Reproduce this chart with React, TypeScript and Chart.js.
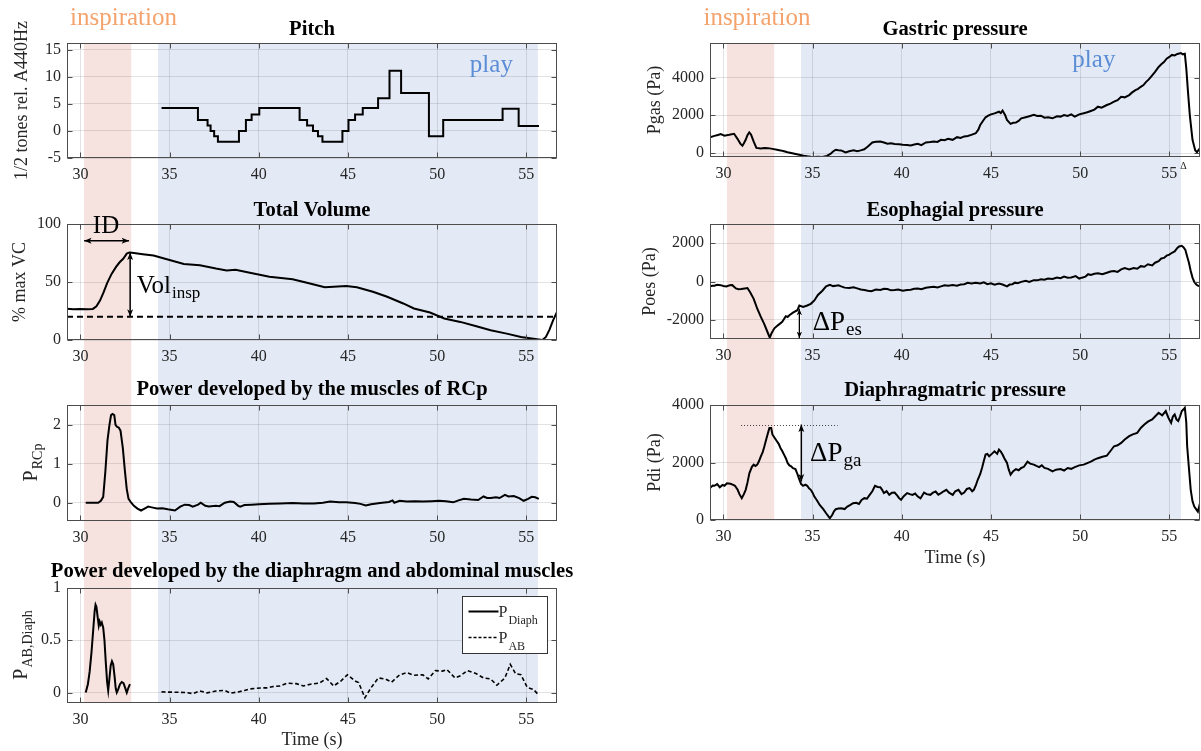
import React, { useEffect, useRef } from "react";
import { Chart, registerables } from "chart.js";

Chart.register(...registerables);

const SERIF = '"Liberation Serif", "Times New Roman", Times, serif';
const INK = "#262626";
const AXIS_COLOR = "#4d4d4d";
const GRID_COLOR = "rgba(0,0,0,0.11)";
const PINK = "#f6e3e0";
const BLUE = "#e4eaf5";
const ORANGE = "#f4a36c";
const PLAY_BLUE = "#5b8dd6";

// ---------- shared axis data ----------
const X_MIN = 29.25;
const X_MAX = 56.72;
const TIME_TICKS = [30, 35, 40, 45, 50, 55];
const INSPIRATION_SPAN = [30.2, 32.85];
const PLAY_SPAN = [34.35, 55.65];

// ---------- Pitch (1/2 tones rel. A440Hz) ----------
const pitchTime = [34.55, 36.59, 37.13, 37.3, 37.5, 37.71, 38.89, 39.28, 39.6, 40.03, 42.29, 42.71, 43.04, 43.32, 43.57, 44.69, 45.03, 45.4, 45.83, 46.69, 47.33, 47.98, 49.54, 50.34, 53.67, 54.57, 55.71];
const pitchTones = [4.2, 2.0, 1.0, 0.0, -1.0, -2.0, 0.0, 2.0, 3.0, 4.2, 2.0, 1.0, 0.0, -1.0, -2.0, 0.0, 2.0, 3.0, 4.2, 6.0, 11.1, 7.0, -1.0, 2.0, 4.1, 0.9, 0.9];
const pitchTicks = [-5, 0, 5, 10, 15];

// ---------- Total volume (% max VC) ----------
const volumeTime = [29.25, 29.6, 30.0, 30.4, 30.7, 30.9, 31.1, 31.3, 31.5, 31.75, 32.0, 32.2, 32.4, 32.6, 32.75, 32.9, 33.5, 34.1, 35.0, 35.8, 36.7, 37.6, 38.2, 38.7, 39.5, 40.6, 41.9, 42.7, 43.7, 44.2, 44.9, 45.5, 46.4, 47.2, 48.1, 48.7, 49.6, 50.4, 51.3, 52.2, 53.0, 53.9, 54.7, 55.6, 55.9, 56.1, 56.3, 56.5, 56.72];
const volumeValues = [27, 26.5, 26.8, 26.5, 26.8, 29, 34, 41, 49, 57, 63, 67, 70, 74.5, 75.5, 75.2, 74, 72.8, 69, 65.6, 64.5, 61.6, 60, 60.6, 58, 54.6, 52.3, 49.4, 45.4, 46, 46.5, 45.4, 41.6, 37.3, 31.5, 27.2, 23.7, 18.5, 15.6, 11.8, 8.4, 5.5, 2.6, 0.6, 0, 2.6, 9, 17, 24.3];
const volumeThreshold = 20;
const volumeTicks = [0, 50, 100];

// ---------- Power RCp ----------
const rcpTime = [30.3, 31.0, 31.15, 31.28, 31.4, 31.52, 31.63, 31.72, 31.8, 31.9, 31.97, 32.05, 32.15, 32.25, 32.38, 32.5, 32.6, 32.7, 32.85, 33.0, 33.2, 33.4, 33.6, 33.8, 34.0, 34.3, 34.6, 34.9, 35.3, 35.6, 35.85, 36.1, 36.3, 36.6, 36.75, 37.0, 37.2, 37.6, 37.8, 38.1, 38.4, 38.6, 38.85, 38.96, 39.2, 39.6, 40.0, 40.6, 41.2, 41.9, 42.5, 43.1, 43.6, 44.0, 44.5, 44.9, 45.4, 45.7, 46.0, 46.3, 46.8, 47.3, 47.5, 47.6, 47.9, 48.3, 48.8, 49.2, 49.7, 50.1, 50.5, 50.9, 51.2, 51.5, 51.9, 52.3, 52.6, 52.8, 53.0, 53.3, 53.5, 53.8, 54.0, 54.3, 54.6, 54.85, 55.1, 55.3, 55.5, 55.7];
const rcpPower = [0, 0, 0.05, 0.15, 0.8, 1.6, 2.0, 2.25, 2.28, 2.25, 2.0, 1.95, 1.93, 1.85, 1.4, 0.8, 0.35, 0.1, 0.0, -0.08, -0.15, -0.2, -0.15, -0.1, -0.12, -0.15, -0.14, -0.17, -0.2, -0.1, -0.05, -0.06, -0.1, -0.05, 0.0, -0.08, -0.1, -0.08, -0.09, 0.0, 0.03, 0.02, -0.08, -0.1, -0.06, -0.05, -0.04, -0.03, -0.02, -0.01, -0.02, -0.02, 0.0, 0.03, 0.01, 0.01, -0.01, -0.03, -0.07, -0.04, -0.01, 0.02, 0.06, 0.0, 0.05, 0.03, 0.04, 0.03, 0.04, 0.05, 0.04, 0.01, 0.06, 0.1, 0.08, 0.07, 0.16, 0.12, 0.12, 0.14, 0.12, 0.2, 0.16, 0.17, 0.12, 0.05, 0.1, 0.15, 0.14, 0.1];
const rcpTicks = [0, 1, 2];

// ---------- Power diaphragm / abdominal ----------
const diaphTime = [30.3, 30.42, 30.52, 30.62, 30.72, 30.8, 30.85, 30.9, 30.97, 31.03, 31.08, 31.14, 31.2, 31.28, 31.35, 31.42, 31.5, 31.56, 31.62, 31.7, 31.77, 31.84, 31.92, 31.98, 32.04, 32.12, 32.22, 32.32, 32.42, 32.52, 32.6, 32.68, 32.78];
const diaphPower = [0, 0.08, 0.2, 0.38, 0.6, 0.78, 0.84, 0.82, 0.72, 0.64, 0.68, 0.65, 0.67, 0.62, 0.5, 0.3, 0.1, 0.02, 0.12, 0.26, 0.3, 0.27, 0.15, 0.04, 0.0, 0.03, 0.08, 0.1, 0.09, 0.04, 0.0, 0.04, 0.08];
const abTime = [34.55, 35.0, 35.4, 35.9, 36.3, 36.7, 37.1, 37.6, 38.1, 38.4, 38.85, 39.2, 39.5, 40.1, 40.5, 40.8, 41.2, 41.6, 42.1, 42.5, 42.9, 43.4, 43.8, 44.2, 44.6, 44.97, 45.4, 45.6, 45.95, 46.3, 46.7, 47.1, 47.45, 47.9, 48.3, 48.7, 49.2, 49.5, 49.9, 50.3, 50.55, 51.0, 51.3, 51.7, 52.2, 52.6, 53.0, 53.35, 53.8, 54.1, 54.4, 54.7, 55.05, 55.4, 55.7];
const abPower = [0.006, 0.004, 0.003, 0.0, -0.01, 0.015, -0.003, 0.015, 0.02, -0.006, 0.006, 0.02, 0.035, 0.044, 0.045, 0.057, 0.063, 0.09, 0.085, 0.063, 0.08, 0.09, 0.135, 0.063, 0.11, 0.17, 0.11, 0.095, -0.05, 0.047, 0.14, 0.13, 0.1, 0.17, 0.19, 0.165, 0.17, 0.13, 0.21, 0.205, 0.22, 0.14, 0.16, 0.21, 0.18, 0.14, 0.13, 0.07, 0.14, 0.27, 0.18, 0.17, 0.05, 0.03, -0.025];
const abTicks = [0, 0.5, 1];

// ---------- Gastric pressure (Pa) ----------
const gasTime = [29.25, 29.5, 29.7, 29.85, 30.06, 30.25, 30.4, 30.6, 30.8, 30.95, 31.07, 31.15, 31.25, 31.35, 31.45, 31.55, 31.7, 31.85, 32.1, 32.3, 32.5, 32.75, 33.0, 33.2, 33.4, 33.6, 33.8, 34.05, 34.25, 34.5, 34.7, 34.9, 35.1, 35.3, 35.55, 35.8, 36.0, 36.15, 36.3, 36.45, 36.6, 36.85, 37.05, 37.3, 37.5, 37.7, 37.9, 38.1, 38.35, 38.55, 38.8, 39.0, 39.2, 39.4, 39.6, 39.85, 40.06, 40.3, 40.5, 40.7, 40.9, 41.1, 41.35, 41.6, 41.8, 42.0, 42.2, 42.4, 42.6, 42.85, 43.1, 43.3, 43.5, 43.7, 43.9, 44.15, 44.3, 44.4, 44.55, 44.7, 44.85, 45.0, 45.2, 45.45, 45.55, 45.65, 45.8, 45.9, 46.1, 46.25, 46.4, 46.55, 46.7, 46.95, 47.2, 47.4, 47.6, 47.8, 48.0, 48.2, 48.45, 48.7, 48.9, 49.1, 49.3, 49.5, 49.7, 49.95, 50.2, 50.4, 50.6, 50.8, 51.0, 51.2, 51.5, 51.7, 51.9, 52.1, 52.3, 52.5, 52.75, 52.9, 53.1, 53.25, 53.4, 53.55, 53.7, 53.85, 54.04, 54.2, 54.4, 54.55, 54.7, 54.85, 55.0, 55.15, 55.3, 55.45, 55.65, 55.75, 55.87, 55.95, 56.05, 56.15, 56.3, 56.45, 56.55, 56.72];
const gasPressure = [840, 910, 960, 1000, 920, 950, 980, 1020, 740, 500, 390, 520, 700, 950, 1090, 980, 600, 270, 245, 270, 260, 220, 175, 140, 90, 40, 0, -50, -90, -140, -175, -200, -210, -200, -210, -150, -50, 80, 175, 150, 140, 35, 90, 140, 100, 140, 200, 350, 560, 600, 615, 560, 490, 520, 475, 470, 440, 420, 400, 450, 490, 420, 560, 580, 615, 590, 700, 680, 750, 700, 840, 800, 880, 900, 965, 1050, 1250, 1490, 1700, 1895, 1980, 2050, 2100, 2190, 2120, 2250, 2000, 1750, 1545, 1600, 1615, 1700, 1840, 1900, 1965, 2020, 1965, 1980, 1875, 1900, 1840, 1950, 1930, 2010, 1965, 2050, 1930, 2050, 2105, 2160, 2230, 2300, 2455, 2400, 2545, 2620, 2720, 2800, 2980, 2950, 3070, 3200, 3330, 3400, 3510, 3600, 3770, 3900, 4120, 4300, 4560, 4700, 4820, 5000, 5090, 5200, 5175, 5250, 5300, 5230, 5260, 4500, 3200, 2000, 700, 150, 50, 260];
const gasTicks = [0, 2000, 4000];

// ---------- Esophageal pressure (Pa) ----------
const oesTime = [29.25, 29.4, 29.5, 29.65, 29.85, 30.0, 30.17, 30.35, 30.5, 30.7, 30.85, 31.0, 31.2, 31.35, 31.5, 31.7, 31.9, 32.1, 32.3, 32.5, 32.6, 32.7, 32.86, 33.07, 33.3, 33.5, 33.6, 33.7, 33.9, 34.15, 34.26, 34.47, 34.7, 34.9, 35.1, 35.3, 35.55, 35.76, 35.97, 36.15, 36.3, 36.45, 36.6, 36.8, 37.05, 37.3, 37.5, 37.7, 37.9, 38.1, 38.3, 38.55, 38.8, 39.0, 39.2, 39.4, 39.6, 39.8, 40.06, 40.3, 40.5, 40.7, 40.9, 41.1, 41.35, 41.55, 41.8, 42.0, 42.2, 42.4, 42.6, 42.85, 43.1, 43.3, 43.5, 43.7, 43.9, 44.15, 44.4, 44.6, 44.8, 45.0, 45.2, 45.45, 45.65, 45.9, 46.05, 46.2, 46.35, 46.5, 46.7, 46.95, 47.15, 47.4, 47.6, 47.8, 48.0, 48.2, 48.45, 48.7, 48.9, 49.1, 49.3, 49.5, 49.75, 49.95, 50.1, 50.3, 50.45, 50.6, 50.8, 51.0, 51.25, 51.5, 51.7, 51.9, 52.1, 52.3, 52.5, 52.75, 53.0, 53.2, 53.4, 53.6, 53.8, 54.04, 54.2, 54.4, 54.55, 54.7, 54.85, 55.0, 55.15, 55.3, 55.45, 55.55, 55.7, 55.8, 55.9, 56.0, 56.1, 56.2, 56.3, 56.4, 56.5, 56.6, 56.72];
const oesPressure = [-256, -220, -220, -170, -190, -230, -256, -200, -190, -360, -400, -390, -360, -340, -565, -905, -1420, -1850, -2240, -2700, -2925, -2700, -2445, -2275, -2100, -1810, -1850, -1760, -1625, -1500, -1250, -1330, -1250, -1165, -990, -700, -480, -256, -170, -240, -220, -200, -256, -320, -340, -300, -360, -420, -445, -480, -510, -420, -445, -380, -390, -460, -445, -420, -480, -440, -430, -380, -360, -400, -325, -300, -275, -310, -256, -200, -220, -180, -220, -160, -140, -70, -100, -60, -100, -40, -140, -90, -170, -110, -155, -256, -160, -140, -60, -85, -20, 35, -20, 70, 60, 120, 90, 155, 130, 205, 170, 255, 200, 205, 280, 155, 200, 255, 380, 340, 400, 430, 380, 460, 520, 550, 500, 630, 700, 630, 700, 665, 800, 770, 900, 840, 980, 1060, 1200, 1230, 1350, 1400, 1500, 1570, 1750, 1830, 1860, 1780, 1650, 1300, 975, 550, 205, -20, -140, -220, -256];
const oesTicks = [-2000, 0, 2000];

// ---------- Diaphragmatic pressure (Pa) ----------
const pdiTime = [29.25, 29.4, 29.5, 29.65, 29.8, 29.95, 30.06, 30.2, 30.4, 30.55, 30.65, 30.8, 30.9, 31.03, 31.15, 31.25, 31.35, 31.46, 31.6, 31.7, 31.8, 31.9, 32.0, 32.1, 32.2, 32.3, 32.4, 32.5, 32.58, 32.68, 32.75, 32.85, 33.0, 33.1, 33.2, 33.3, 33.4, 33.5, 33.6, 33.7, 33.8, 33.9, 34.04, 34.15, 34.26, 34.36, 34.47, 34.6, 34.7, 34.8, 34.9, 35.0, 35.1, 35.25, 35.4, 35.6, 35.76, 35.9, 35.97, 36.05, 36.1, 36.2, 36.3, 36.45, 36.6, 36.8, 36.95, 37.1, 37.27, 37.45, 37.6, 37.75, 37.9, 38.05, 38.2, 38.35, 38.5, 38.65, 38.8, 38.9, 39.0, 39.15, 39.3, 39.45, 39.6, 39.75, 39.85, 39.96, 40.1, 40.3, 40.45, 40.6, 40.75, 40.9, 41.05, 41.25, 41.4, 41.6, 41.75, 41.9, 42.05, 42.2, 42.35, 42.5, 42.65, 42.86, 43.0, 43.18, 43.35, 43.5, 43.65, 43.8, 43.95, 44.04, 44.15, 44.26, 44.4, 44.5, 44.6, 44.7, 44.8, 44.9, 45.05, 45.2, 45.35, 45.45, 45.55, 45.65, 45.75, 45.9, 46.0, 46.1, 46.25, 46.4, 46.55, 46.7, 46.85, 47.05, 47.2, 47.4, 47.55, 47.7, 47.85, 48.0, 48.2, 48.45, 48.65, 48.9, 49.1, 49.3, 49.5, 49.7, 49.95, 50.2, 50.4, 50.6, 50.8, 51.0, 51.25, 51.5, 51.7, 51.9, 52.1, 52.3, 52.5, 52.75, 52.95, 53.2, 53.4, 53.6, 53.8, 54.04, 54.2, 54.4, 54.6, 54.8, 54.95, 55.1, 55.2, 55.3, 55.4, 55.5, 55.6, 55.7, 55.8, 55.87, 55.95, 56.0, 56.1, 56.2, 56.3, 56.4, 56.5, 56.6, 56.72];
const pdiPressure = [1110, 1200, 1190, 1250, 1140, 1220, 1190, 1280, 1260, 1220, 1190, 1050, 900, 760, 900, 1050, 1300, 1630, 1850, 1925, 1880, 1925, 2050, 2215, 2350, 2565, 2800, 3030, 3200, 3200, 2975, 2880, 2740, 2650, 2505, 2400, 2275, 2150, 1985, 1900, 1865, 1800, 1770, 1600, 1400, 1250, 1190, 1230, 1190, 1100, 1050, 950, 815, 680, 525, 380, 235, 120, 60, 130, 175, 300, 375, 400, 410, 380, 465, 520, 585, 600, 560, 700, 760, 740, 875, 1000, 1190, 1150, 1140, 1050, 935, 1000, 875, 950, 955, 850, 760, 700, 820, 935, 900, 875, 920, 815, 750, 955, 900, 875, 950, 990, 880, 935, 1000, 1050, 950, 875, 1000, 1050, 900, 955, 1080, 1110, 1000, 1050, 1200, 1400, 1600, 1810, 2050, 2275, 2300, 2215, 2300, 2390, 2300, 2450, 2380, 2275, 2150, 1985, 1750, 1575, 1700, 1770, 1730, 1810, 1850, 2030, 1960, 1925, 1880, 1840, 1900, 1810, 1780, 1690, 1750, 1770, 1720, 1810, 1780, 1840, 1900, 1925, 1980, 2030, 2100, 2150, 2200, 2240, 2400, 2565, 2600, 2680, 2800, 2915, 2980, 3030, 3200, 3320, 3420, 3500, 3600, 3730, 3640, 3790, 3550, 3380, 3600, 3670, 3500, 3440, 3600, 3790, 3850, 3905, 3400, 2565, 1800, 1050, 650, 465, 380, 290, 585];
const pdiTicks = [0, 2000, 4000];

// ---------- helpers ----------
type Pt = { x: number; y: number };
const zip = (xs: number[], ys: number[]): Pt[] => xs.map((x, i) => ({ x, y: ys[i] }));

const lineDs = (data: Pt[], extra: any = {}) => ({
  data,
  borderColor: "#000",
  borderWidth: 2,
  pointRadius: 0,
  fill: false,
  tension: 0,
  ...extra,
});

function arrow(ctx: CanvasRenderingContext2D, x1: number, y1: number, x2: number, y2: number, head = 8, lw = 1.5) {
  const ang = Math.atan2(y2 - y1, x2 - x1);
  ctx.save();
  ctx.strokeStyle = "#000";
  ctx.fillStyle = "#000";
  ctx.lineWidth = lw;
  ctx.setLineDash([]);
  ctx.beginPath();
  ctx.moveTo(x1, y1);
  ctx.lineTo(x2, y2);
  ctx.stroke();
  const headAt = (x: number, y: number, a: number) => {
    ctx.beginPath();
    ctx.moveTo(x, y);
    ctx.lineTo(x - head * Math.cos(a - 0.38), y - head * Math.sin(a - 0.38));
    ctx.lineTo(x - head * 0.7 * Math.cos(a), y - head * 0.7 * Math.sin(a));
    ctx.lineTo(x - head * Math.cos(a + 0.38), y - head * Math.sin(a + 0.38));
    ctx.closePath();
    ctx.fill();
  };
  headAt(x2, y2, ang);
  headAt(x1, y1, ang + Math.PI);
  ctx.restore();
}

function drawSub(ctx: CanvasRenderingContext2D, x: number, y: number, main: string, sub: string, size: number, subSize: number, drop: number, color = "#000") {
  ctx.save();
  ctx.fillStyle = color;
  ctx.textAlign = "left";
  ctx.textBaseline = "alphabetic";
  ctx.font = `${size}px ${SERIF}`;
  ctx.fillText(main, x, y);
  const w = ctx.measureText(main).width;
  ctx.font = `${subSize}px ${SERIF}`;
  ctx.fillText(sub, x + w + 1, y + drop);
  ctx.restore();
}

function drawYLabel(ctx: CanvasRenderingContext2D, cx: number, cy: number, main: string, sub: string | undefined, size: number) {
  ctx.save();
  ctx.translate(cx, cy);
  ctx.rotate(-Math.PI / 2);
  ctx.fillStyle = INK;
  ctx.textBaseline = "middle";
  ctx.textAlign = "left";
  const subSize = Math.round(size * 0.7);
  ctx.font = `${size}px ${SERIF}`;
  const wMain = ctx.measureText(main).width;
  let wSub = 0;
  if (sub) {
    ctx.font = `${subSize}px ${SERIF}`;
    wSub = ctx.measureText(sub).width;
  }
  const start = -(wMain + wSub) / 2;
  ctx.font = `${size}px ${SERIF}`;
  ctx.fillText(main, start, 0);
  if (sub) {
    ctx.font = `${subSize}px ${SERIF}`;
    ctx.fillText(sub, start + wMain + 1, size * 0.33);
  }
  ctx.restore();
}

type PanelDef = {
  id: string;
  left: number;
  top: number;
  width: number;
  height: number;
  plotLeft: number;
  plotRight: number;
  plotTop: number;
  plotBottom: number;
  yMin: number;
  yMax: number;
  yTicks: number[];
  title: string;
  titleY: number;
  yLabel: { main: string; sub?: string; cx: number; size: number };
  xTitleY?: number;
  bandTop: boolean;
  bandBottom: boolean;
  datasets: any[];
  extra?: (ctx: CanvasRenderingContext2D, X: (v: number) => number, Y: (v: number) => number, ca: any) => void;
};

function makeDecor(p: PanelDef) {
  return {
    id: "decor_" + p.id,
    beforeDraw(chart: any) {
      const { ctx, chartArea } = chart;
      const xs = chart.scales.x;
      const y0 = p.bandTop ? chartArea.top : 0;
      const y1 = p.bandBottom ? chartArea.bottom : chart.height;
      ctx.save();
      const band = (span: number[], color: string) => {
        const a = xs.getPixelForValue(span[0]);
        const b = xs.getPixelForValue(span[1]);
        ctx.fillStyle = color;
        ctx.fillRect(a, y0, b - a, y1 - y0);
      };
      band(INSPIRATION_SPAN, PINK);
      band(PLAY_SPAN, BLUE);
      ctx.restore();
    },
    afterDraw(chart: any) {
      const { ctx, chartArea: ca } = chart;
      const xs = chart.scales.x;
      const ys = chart.scales.y;
      const X = (v: number) => xs.getPixelForValue(v);
      const Y = (v: number) => ys.getPixelForValue(v);
      ctx.save();
      // axes box
      ctx.strokeStyle = AXIS_COLOR;
      ctx.lineWidth = 1;
      ctx.setLineDash([]);
      const L = Math.round(ca.left) + 0.5;
      const R = Math.round(ca.right) - 0.5;
      const T = Math.round(ca.top) + 0.5;
      const B = Math.round(ca.bottom) - 0.5;
      ctx.strokeRect(L, T, R - L, B - T);
      ctx.beginPath();
      TIME_TICKS.forEach((v) => {
        const px = Math.round(X(v)) + 0.5;
        ctx.moveTo(px, B);
        ctx.lineTo(px, B - 5);
        ctx.moveTo(px, T);
        ctx.lineTo(px, T + 5);
      });
      p.yTicks.forEach((v) => {
        const py = Math.round(Y(v)) + 0.5;
        ctx.moveTo(L, py);
        ctx.lineTo(L + 5, py);
        ctx.moveTo(R, py);
        ctx.lineTo(R - 5, py);
      });
      ctx.stroke();
      // title
      ctx.fillStyle = "#000";
      ctx.font = `bold 20.6px ${SERIF}`;
      ctx.textAlign = "center";
      ctx.textBaseline = "middle";
      ctx.fillText(p.title, (ca.left + ca.right) / 2, p.titleY - p.top);
      // y label
      drawYLabel(ctx, p.yLabel.cx - p.left, (ca.top + ca.bottom) / 2, p.yLabel.main, p.yLabel.sub, p.yLabel.size);
      // x title
      if (p.xTitleY !== undefined) {
        ctx.fillStyle = INK;
        ctx.font = `18px ${SERIF}`;
        ctx.textAlign = "center";
        ctx.textBaseline = "middle";
        ctx.fillText("Time (s)", (ca.left + ca.right) / 2, p.xTitleY - p.top);
      }
      if (p.extra) p.extra(ctx, X, Y, ca);
      ctx.restore();
    },
  };
}

function Panel({ p }: { p: PanelDef }) {
  const ref = useRef<HTMLCanvasElement | null>(null);
  useEffect(() => {
    const canvas = ref.current;
    if (!canvas) return;
    const tickFont = { family: SERIF, size: 16 };
    const chart = new Chart(canvas, {
      type: "line",
      data: { datasets: p.datasets },
      options: {
        animation: false,
        responsive: false,
        maintainAspectRatio: false,
        devicePixelRatio: 1,
        events: [],
        layout: {
          padding: { top: p.plotTop - p.top, right: p.left + p.width - p.plotRight, bottom: 0, left: 0 },
        },
        plugins: {
          legend: { display: false },
          tooltip: { enabled: false },
          title: { display: false },
        },
        scales: {
          x: {
            type: "linear",
            min: X_MIN,
            max: X_MAX,
            afterBuildTicks: (s: any) => {
              s.ticks = TIME_TICKS.map((v) => ({ value: v }));
            },
            afterFit: (s: any) => {
              s.height = p.top + p.height - p.plotBottom;
            },
            grid: { color: GRID_COLOR, drawTicks: false, lineWidth: 1 },
            border: { display: false },
            ticks: {
              padding: 7,
              autoSkip: false,
              maxRotation: 0,
              font: tickFont,
              color: INK,
              callback: (v: any) => String(v),
            },
          },
          y: {
            type: "linear",
            min: p.yMin,
            max: p.yMax,
            afterBuildTicks: (s: any) => {
              s.ticks = p.yTicks.map((v) => ({ value: v }));
            },
            afterFit: (s: any) => {
              s.width = p.plotLeft - p.left;
            },
            grid: { color: GRID_COLOR, drawTicks: false, lineWidth: 1 },
            border: { display: false },
            ticks: {
              padding: 6,
              autoSkip: false,
              font: tickFont,
              color: INK,
              callback: (v: any) => String(v),
            },
          },
        },
      } as any,
      plugins: [makeDecor(p)],
    });
    return () => chart.destroy();
  }, [p]);
  return (
    <canvas
      ref={ref}
      width={p.width}
      height={p.height}
      style={{ position: "absolute", left: p.left, top: p.top, width: p.width, height: p.height, display: "block" }}
    />
  );
}

const LEFT = { left: 0, width: 585, plotLeft: 67, plotRight: 557 };
const RIGHT = { left: 600, width: 601, plotLeft: 710, plotRight: 1200 };

const panels: PanelDef[] = [
  {
    id: "pitch",
    ...LEFT,
    top: 0,
    height: 186,
    plotTop: 43,
    plotBottom: 158,
    yMin: -5,
    yMax: 16.2,
    yTicks: pitchTicks,
    title: "Pitch",
    titleY: 30,
    yLabel: { main: "1/2 tones rel. A440Hz", cx: 22, size: 18 },
    bandTop: true,
    bandBottom: false,
    datasets: [lineDs(zip(pitchTime, pitchTones), { stepped: "before" })],
    extra: (ctx, X) => {
      ctx.font = `25px ${SERIF}`;
      ctx.textAlign = "center";
      ctx.textBaseline = "middle";
      ctx.fillStyle = ORANGE;
      ctx.fillText("inspiration", X(32.42), 18);
      ctx.fillStyle = PLAY_BLUE;
      ctx.fillText("play", X(53.04), 65);
    },
  },
  {
    id: "volume",
    ...LEFT,
    top: 186,
    height: 179,
    plotTop: 224,
    plotBottom: 340,
    yMin: 0,
    yMax: 100,
    yTicks: volumeTicks,
    title: "Total Volume",
    titleY: 211,
    yLabel: { main: "% max VC", cx: 20, size: 18 },
    bandTop: false,
    bandBottom: false,
    datasets: [
      lineDs(zip(volumeTime, volumeValues)),
      lineDs(
        [
          { x: X_MIN, y: volumeThreshold },
          { x: X_MAX, y: volumeThreshold },
        ],
        { borderDash: [6, 4] }
      ),
    ],
    extra: (ctx, X, Y) => {
      ctx.fillStyle = "#000";
      ctx.font = `25px ${SERIF}`;
      ctx.textAlign = "center";
      ctx.textBaseline = "alphabetic";
      ctx.fillText("ID", X(31.44), Y(92.5));
      arrow(ctx, X(30.21), Y(85.5), X(32.73), Y(85.5));
      arrow(ctx, X(32.79), Y(75.4), X(32.79), Y(20));
      drawSub(ctx, X(33.16), Y(40.2), "Vol", "insp", 25, 17, 5);
    },
  },
  {
    id: "rcp",
    ...LEFT,
    top: 365,
    height: 190,
    plotTop: 405,
    plotBottom: 521,
    yMin: -0.47,
    yMax: 2.51,
    yTicks: rcpTicks,
    title: "Power developed by the muscles of RCp",
    titleY: 390,
    yLabel: { main: "P", sub: "RCp", cx: 32, size: 20 },
    bandTop: false,
    bandBottom: false,
    datasets: [lineDs(zip(rcpTime, rcpPower))],
  },
  {
    id: "ab",
    ...LEFT,
    top: 555,
    height: 196,
    plotTop: 588,
    plotBottom: 703,
    yMin: -0.1,
    yMax: 1,
    yTicks: abTicks,
    title: "Power developed by the diaphragm and abdominal muscles",
    titleY: 572,
    yLabel: { main: "P", sub: "AB,Diaph", cx: 22, size: 20 },
    xTitleY: 740,
    bandTop: false,
    bandBottom: true,
    datasets: [
      lineDs(zip(diaphTime, diaphPower)),
      lineDs(zip(abTime, abPower), { borderDash: [4, 2.5], borderWidth: 1.6 }),
    ],
    extra: (ctx, X, Y, ca) => {
      const bx = Math.round(ca.right) - 94.5;
      const by = Math.round(ca.top) + 8.5;
      const bw = 85;
      const bh = 57;
      ctx.fillStyle = "#fff";
      ctx.fillRect(bx, by, bw, bh);
      ctx.strokeStyle = "#333";
      ctx.lineWidth = 1;
      ctx.setLineDash([]);
      ctx.strokeRect(bx, by, bw, bh);
      ctx.strokeStyle = "#000";
      ctx.lineWidth = 2;
      ctx.beginPath();
      ctx.moveTo(bx + 6, by + 15);
      ctx.lineTo(bx + 36, by + 15);
      ctx.stroke();
      ctx.setLineDash([3, 2]);
      ctx.lineWidth = 1.6;
      ctx.beginPath();
      ctx.moveTo(bx + 6, by + 41);
      ctx.lineTo(bx + 36, by + 41);
      ctx.stroke();
      ctx.setLineDash([]);
      drawSub(ctx, bx + 36, by + 20, "P", "Diaph", 16, 12, 7, INK);
      drawSub(ctx, bx + 36, by + 46, "P", "AB", 16, 12, 7, INK);
    },
  },
  {
    id: "gas",
    ...RIGHT,
    top: 0,
    height: 186,
    plotTop: 43,
    plotBottom: 157,
    yMin: -210,
    yMax: 5830,
    yTicks: gasTicks,
    title: "Gastric pressure",
    titleY: 30,
    yLabel: { main: "Pgas (Pa)", cx: 655, size: 18 },
    bandTop: true,
    bandBottom: false,
    datasets: [lineDs(zip(gasTime, gasPressure))],
    extra: (ctx, X) => {
      ctx.font = `25px ${SERIF}`;
      ctx.textAlign = "center";
      ctx.textBaseline = "middle";
      ctx.fillStyle = ORANGE;
      ctx.fillText("inspiration", X(31.88), 18);
      ctx.fillStyle = PLAY_BLUE;
      ctx.fillText("play", X(50.77), 60);
      ctx.fillStyle = INK;
      ctx.font = `10px ${SERIF}`;
      ctx.fillText("Δ", X(55.8), 166);
    },
  },
  {
    id: "oes",
    ...RIGHT,
    top: 186,
    height: 179,
    plotTop: 224,
    plotBottom: 339,
    yMin: -3000,
    yMax: 3000,
    yTicks: oesTicks,
    title: "Esophagial pressure",
    titleY: 211,
    yLabel: { main: "Poes (Pa)", cx: 650, size: 18 },
    bandTop: false,
    bandBottom: false,
    datasets: [lineDs(zip(oesTime, oesPressure))],
    extra: (ctx, X, Y) => {
      arrow(ctx, X(34.26), Y(-1420), X(34.26), Y(-2960), 7, 1.3);
      drawSub(ctx, X(35.01), Y(-2530), "ΔP", "es", 27, 19, 5);
    },
  },
  {
    id: "pdi",
    ...RIGHT,
    top: 365,
    height: 215,
    plotTop: 405,
    plotBottom: 520,
    yMin: 0,
    yMax: 4000,
    yTicks: pdiTicks,
    title: "Diaphragmatric pressure",
    titleY: 391,
    yLabel: { main: "Pdi (Pa)", cx: 655, size: 18 },
    xTitleY: 558,
    bandTop: false,
    bandBottom: true,
    datasets: [lineDs(zip(pdiTime, pdiPressure))],
    extra: (ctx, X, Y) => {
      ctx.save();
      ctx.strokeStyle = "#444";
      ctx.lineWidth = 1;
      ctx.setLineDash([1, 2]);
      ctx.beginPath();
      ctx.moveTo(X(30.99), Math.round(Y(3320)) + 0.5);
      ctx.lineTo(X(36.41), Math.round(Y(3320)) + 0.5);
      ctx.stroke();
      ctx.restore();
      arrow(ctx, X(34.37), Y(3320), X(34.37), Y(1340), 8, 1.5);
      drawSub(ctx, X(34.86), Y(2064), "ΔP", "ga", 27, 19, 5);
    },
  },
];

export default function App() {
  return (
    <div style={{ position: "absolute", left: 0, top: 0, width: 1201, height: 751, background: "#fff", overflow: "hidden" }}>
      {panels.map((p) => (
        <Panel key={p.id} p={p} />
      ))}
    </div>
  );
}
